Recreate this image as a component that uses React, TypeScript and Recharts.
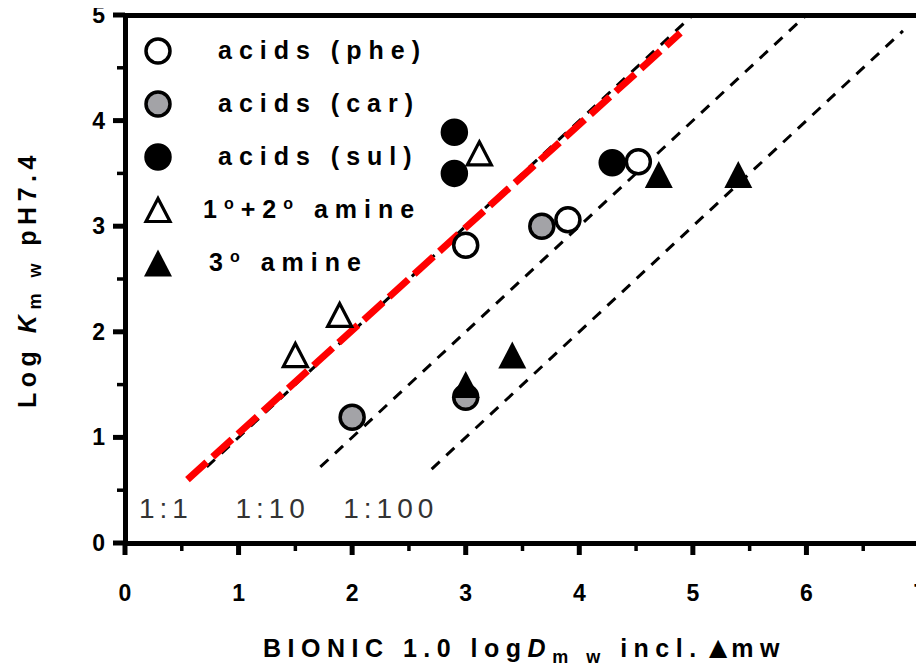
import * as React from 'react';
import {ScatterChart, Scatter, XAxis, YAxis, ReferenceLine, ReferenceDot, Legend} from 'recharts';

// measured points (log D_mw, log K_mw)
const acidsPhe = [{x: 3.0, y: 2.82}, {x: 3.9, y: 3.06}, {x: 4.52, y: 3.61}];
const acidsCar = [{x: 2.0, y: 1.19}, {x: 3.67, y: 3.0}, {x: 3.0, y: 1.38}];
const acidsSul = [{x: 2.9, y: 3.89}, {x: 2.9, y: 3.5}, {x: 4.29, y: 3.6}];
const amine12 = [{x: 1.5, y: 1.78}, {x: 1.89, y: 2.16}, {x: 3.12, y: 3.69}];
const amine3 = [{x: 3.0, y: 1.5}, {x: 3.41, y: 1.78}, {x: 4.7, y: 3.49}, {x: 5.4, y: 3.49}];

const xTicks = [0, 0.5, 1, 1.5, 2, 2.5, 3, 3.5, 4, 4.5, 5, 5.5, 6, 6.5, 7];
const yTicks = [0, 0.5, 1, 1.5, 2, 2.5, 3, 3.5, 4, 4.5, 5];

// 1:1, 1:10, 1:100 lines
const ratioLines = [
    [{x: 0.72, y: 0.72}, {x: 5, y: 5}],
    [{x: 1.72, y: 0.72}, {x: 6, y: 5}],
    [{x: 2.7, y: 0.7}, {x: 6.85, y: 4.85}],
];
const fitLine = [{x: 0.55, y: 0.6}, {x: 4.89, y: 4.83}];

const ratioLabels = ['1:1', '1:10', '1:100'];
const ratioLabelX = [0.36, 1.3, 2.34];
const ratioLabelY = 0.33;

const legendLabels = ['acids (phe)', 'acids (car)', 'acids (sul)', '1°+2° amine', '3° amine'];

const FONT = '"Liberation Sans", Arial, sans-serif';

// chart box
const W = 916, H = 658;
const M = {top: 7, right: 4, bottom: 8, left: 0};
const Y_AXIS_W = 117, X_AXIS_H = 115;

const circleShape = (fill: string) => (props: any) =>
    <circle cx={props.cx} cy={props.cy} r={12} fill={fill} stroke="#000" strokeWidth={3.5}/>;

const triPoints = (cx: number, cy: number, w: number, h: number) =>
    `${cx},${cy - h / 2} ${cx + w / 2},${cy + h / 2} ${cx - w / 2},${cy + h / 2}`;

const openTriangle = (props: any) =>
    <polygon points={triPoints(props.cx, props.cy, 24, 23)} fill="#fff" stroke="#000" strokeWidth={3.2} strokeLinejoin="miter"/>;
const filledTriangle = (props: any) =>
    <polygon points={triPoints(props.cx, props.cy, 28, 27)} fill="#000"/>;

const markers = [
    (cx: number, cy: number) => circleShape('#fff')({cx, cy}),
    (cx: number, cy: number) => circleShape('#a3a3a7')({cx, cy}),
    (cx: number, cy: number) => circleShape('#000')({cx, cy}),
    (cx: number, cy: number) => openTriangle({cx, cy}),
    (cx: number, cy: number) => filledTriangle({cx, cy}),
];

const XTick = (props: any) => {
    const {x, y, payload} = props;
    const major = Number.isInteger(payload.value);
    return (
        <g>
            <line x1={x} x2={x} y1={y} y2={y + (major ? 12 : 8)} stroke="#000" strokeWidth={major ? 5 : 3.5}/>
            {major &&
                <text x={x} y={y + 50} textAnchor="middle" dominantBaseline="central"
                      fontFamily={FONT} fontWeight="bold" fontSize={23} fill="#000">{payload.value}</text>}
        </g>
    );
};

const YTick = (props: any) => {
    const {x, y, payload} = props;
    const major = Number.isInteger(payload.value);
    return (
        <g>
            <line x1={x - (major ? 12 : 8)} x2={x} y1={y} y2={y} stroke="#000" strokeWidth={major ? 5 : 3.5}/>
            {major &&
                <text x={x - 20} y={y} textAnchor="end" dominantBaseline="central"
                      fontFamily={FONT} fontWeight="bold" fontSize={23} fill="#000">{payload.value}</text>}
        </g>
    );
};

const renderYLabel = (props: any) => {
    const {viewBox} = props;
    const cx = viewBox.x + 19;
    const cy = viewBox.y + viewBox.height / 2;
    return (
        <text x={cx} y={cy} transform={`rotate(-90 ${cx} ${cy})`} textAnchor="middle" dominantBaseline="central"
              fontFamily={FONT} fontWeight="bold" fontSize={25} fill="#000" letterSpacing={5.5}>
            Log <tspan fontStyle="italic">K</tspan>
            <tspan fontSize={18} dy={8}>m w</tspan>
            <tspan dy={-8}> pH7.4</tspan>
        </text>
    );
};

const renderXLabel = (props: any) => {
    const {viewBox} = props;
    return (
        <text x={viewBox.x + viewBox.width / 2 + 2} y={viewBox.y + 105} textAnchor="middle" dominantBaseline="central"
              fontFamily={FONT} fontWeight="bold" fontSize={25} fill="#000" letterSpacing={6.5}>
            BIONIC 1.0 log<tspan fontStyle="italic">D</tspan>
            <tspan fontSize={18} dy={9}>m w</tspan>
            <tspan dy={-9}> incl.</tspan>
            <tspan fontSize={31} letterSpacing={-2} dy={-1}>▲</tspan>
            <tspan dy={1}>mw</tspan>
        </text>
    );
};

const renderRatioLabel = (props: any) => {
    const {viewBox, value} = props;
    return (
        <text x={viewBox.x} y={viewBox.y} textAnchor="middle" dominantBaseline="central"
              fontFamily={FONT} fontSize={28} fill="#333" letterSpacing={5}>{value}</text>
    );
};

const legendText = (label: string) => {
    const parts = label.split('°');
    return parts.map((p, i) => (
        <React.Fragment key={i}>
            {p}
            {i < parts.length - 1 && <sup style={{fontSize: 16, verticalAlign: 9}}>o</sup>}
        </React.Fragment>
    ));
};

const renderLegend = () => (
    <div style={{fontFamily: FONT, fontWeight: 'bold', fontSize: 25, letterSpacing: 7, color: '#000'}}>
        {legendLabels.map((label, i) => (
            <div key={label} style={{display: 'flex', alignItems: 'center', height: 53}}>
                <svg width={32} height={32}>{markers[i](16, 16)}</svg>
                <span style={{marginLeft: i < 3 ? 44 : (i === 3 ? 29 : 35), whiteSpace: 'nowrap'}}>{legendText(label)}</span>
            </div>
        ))}
    </div>
);

export default function App() {
    const plotLeft = M.left + Y_AXIS_W;
    const plotTop = M.top;
    const plotW = W - M.left - M.right - Y_AXIS_W;
    const plotH = H - M.top - M.bottom - X_AXIS_H;
    return (
        <div style={{position: 'relative', width: W, height: H}}>
            <ScatterChart width={W} height={H} margin={M}>
                <XAxis type="number" dataKey="x" domain={[0, 7]} ticks={xTicks} interval={0} height={X_AXIS_H}
                       axisLine={false} tickLine={false} tickSize={0} tickMargin={0}
                       tick={<XTick/>} label={{content: renderXLabel}}/>
                <YAxis type="number" dataKey="y" domain={[0, 5]} ticks={yTicks} interval={0} width={Y_AXIS_W}
                       axisLine={false} tickLine={false} tickSize={0} tickMargin={0}
                       tick={<YTick/>} label={{content: renderYLabel}}/>
                {ratioLines.map((seg, i) =>
                    <ReferenceLine key={i} segment={seg} stroke="#000" strokeWidth={3} strokeDasharray="11 9"/>)}
                <ReferenceLine segment={fitLine} stroke="#ff0000" strokeWidth={7} strokeDasharray="26 8"/>
                {ratioLabels.map((t, i) =>
                    <ReferenceDot key={t} x={ratioLabelX[i]} y={ratioLabelY} r={0} fill="none" stroke="none"
                                  label={{value: t, content: renderRatioLabel}}/>)}
                <Scatter name="acids (sul)" data={acidsSul} shape={circleShape('#000')} isAnimationActive={false}/>
                <Scatter name="acids (car)" data={acidsCar} shape={circleShape('#a3a3a7')} isAnimationActive={false}/>
                <Scatter name="acids (phe)" data={acidsPhe} shape={circleShape('#fff')} isAnimationActive={false}/>
                <Scatter name="1°+2° amine" data={amine12} shape={openTriangle} isAnimationActive={false}/>
                <Scatter name="3° amine" data={amine3} shape={filledTriangle} isAnimationActive={false}/>
                <Legend layout="horizontal" verticalAlign="middle" align="center" content={renderLegend}
                        wrapperStyle={{left: 134, top: 16, width: 340, height: 270}}/>
            </ScatterChart>
            {/* plot frame */}
            <div style={{
                position: 'absolute', left: plotLeft - 2.5, top: plotTop - 2.5,
                width: plotW + 5, height: plotH + 5, border: '5px solid #000',
                boxSizing: 'border-box', pointerEvents: 'none'
            }}/>
        </div>
    );
}
